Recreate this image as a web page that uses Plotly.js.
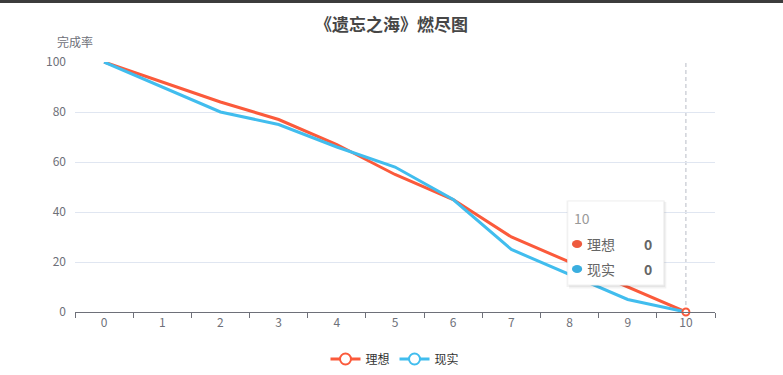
<!DOCTYPE html>
<html>
<head>
<meta charset="utf-8">
<script src="https://cdn.plot.ly/plotly-3.0.1.min.js"></script>
<style>
html,body{margin:0;padding:0;background:#fff;}
body{border-top:3px solid #3c3c3c;box-sizing:border-box;}
#chart{width:783px;height:372px;}
</style>
</head>
<body>
<div id="chart"></div>
<script>
const categories = ['0','1','2','3','4','5','6','7','8','9','10'];
const ideal = [100, 92, 84, 77, 67, 55, 45, 30, 20, 10, 0];
const actual = [100, 90, 80, 75, 66, 58, 45, 25, 15, 5, 0];
const seriesNames = ['理想', '现实'];
const titleText = '《遗忘之海》燃尽图';
const yName = '完成率';
const yTicks = [0, 20, 40, 60, 80, 100];

const RED = '#fb5a3b';
const BLUE = '#41bdee';
const RED_DOT = '#ee5a3e';
const BLUE_DOT = '#3aaedf';
const FONT = '"Noto Sans CJK SC", "Noto Sans", sans-serif';
const last = categories.length - 1;

const traces = [
  {x: categories, y: ideal, type: 'scatter', mode: 'lines', line: {color: RED, width: 3}, showlegend: false, hoverinfo: 'skip'},
  {x: categories, y: actual, type: 'scatter', mode: 'lines', line: {color: BLUE, width: 3}, showlegend: false, hoverinfo: 'skip'},
  {x: [categories[last]], y: [ideal[last]], type: 'scatter', mode: 'markers',
   marker: {size: 7, color: '#fff', line: {color: RED, width: 2}}, showlegend: false, hoverinfo: 'skip', cliponaxis: false},
  {x: [null], y: [null], type: 'scatter', mode: 'lines+markers', name: seriesNames[0],
   line: {color: RED, width: 3}, marker: {size: 11, color: '#fff', line: {color: RED, width: 2}}},
  {x: [null], y: [null], type: 'scatter', mode: 'lines+markers', name: seriesNames[1],
   line: {color: BLUE, width: 3}, marker: {size: 11, color: '#fff', line: {color: BLUE, width: 2}}}
];

// tooltip geometry in paper coordinates (plot area 640 x 250)
const tx0 = 0.770, tx1 = 0.920, ty0 = 0.108, ty1 = 0.444;

const layout = {
  width: 783, height: 372,
  margin: {l: 75, r: 68, t: 59, b: 63, autoexpand: false},
  paper_bgcolor: '#fff', plot_bgcolor: '#fff',
  font: {family: FONT, color: '#6e7079', size: 12},
  title: {text: '<b>' + titleText + '</b>', x: 0.5, xanchor: 'center', yref: 'container', y: 0.94, yanchor: 'middle',
          font: {family: FONT, size: 17, color: '#464646'}},
  xaxis: {
    type: 'category', range: [-0.5, last + 0.5], tickson: 'boundaries',
    showline: true, linecolor: '#6e7079', linewidth: 1,
    ticks: 'outside', ticklen: 5, tickcolor: '#6e7079', showgrid: false, zeroline: false,
    tickfont: {family: FONT, size: 12, color: '#6e7079'}, fixedrange: true, automargin: false
  },
  yaxis: {
    range: [0, 100], tickvals: yTicks, showline: false, ticks: '', zeroline: false,
    showgrid: true, gridcolor: '#e0e6f1', gridwidth: 1, ticklabelstandoff: 8,
    tickfont: {family: FONT, size: 12, color: '#6e7079'}, fixedrange: true, automargin: false
  },
  legend: {orientation: 'h', x: 0.5, xanchor: 'center', yref: 'container', y: 0.043, yanchor: 'middle',
           font: {family: FONT, size: 12, color: '#333'}, itemwidth: 30, tracegroupgap: 0},
  shapes: [
    {type: 'line', xref: 'x', yref: 'paper', x0: categories[last], x1: categories[last], y0: 0, y1: 1,
     line: {color: '#b9bcc6', width: 1, dash: '4px,3px'}, layer: 'below'},
    {type: 'rect', xref: 'paper', yref: 'paper', x0: tx0 + 0.002, x1: tx1 + 0.004, y0: ty0 - 0.014, y1: ty1 - 0.004,
     fillcolor: 'rgba(0,0,0,0.05)', line: {width: 0}},
    {type: 'rect', xref: 'paper', yref: 'paper', x0: tx0 - 0.002, x1: tx1 + 0.002, y0: ty0 - 0.008, y1: ty1 + 0.002,
     fillcolor: 'rgba(0,0,0,0.05)', line: {width: 0}},
    {type: 'rect', xref: 'paper', yref: 'paper', x0: tx0, x1: tx1, y0: ty0, y1: ty1,
     fillcolor: '#fff', line: {color: '#f0f0f0', width: 1}},
    {type: 'circle', xref: 'paper', yref: 'paper', x0: 0.7765, x1: 0.7925, y0: 0.256, y1: 0.288,
     fillcolor: RED_DOT, line: {width: 0}},
    {type: 'circle', xref: 'paper', yref: 'paper', x0: 0.7765, x1: 0.7925, y0: 0.156, y1: 0.188,
     fillcolor: BLUE_DOT, line: {width: 0}}
  ],
  annotations: [
    {text: yName, xref: 'paper', yref: 'paper', x: 0.0, y: 1.08, xanchor: 'center', yanchor: 'middle',
     showarrow: false, font: {family: FONT, size: 12, color: '#6e7079'}},
    {text: categories[last], xref: 'paper', yref: 'paper', x: 0.7765, y: 0.376, xanchor: 'left', yanchor: 'middle',
     showarrow: false, font: {family: FONT, size: 14, color: '#999'}},
    {text: seriesNames[0], xref: 'paper', yref: 'paper', x: 0.797, y: 0.272, xanchor: 'left', yanchor: 'middle',
     showarrow: false, font: {family: FONT, size: 14, color: '#666'}},
    {text: seriesNames[1], xref: 'paper', yref: 'paper', x: 0.797, y: 0.172, xanchor: 'left', yanchor: 'middle',
     showarrow: false, font: {family: FONT, size: 14, color: '#666'}},
    {text: '<b>' + ideal[last] + '</b>', xref: 'paper', yref: 'paper', x: 0.9045, y: 0.272, xanchor: 'right', yanchor: 'middle',
     showarrow: false, font: {family: FONT, size: 14, color: '#666'}},
    {text: '<b>' + actual[last] + '</b>', xref: 'paper', yref: 'paper', x: 0.9045, y: 0.172, xanchor: 'right', yanchor: 'middle',
     showarrow: false, font: {family: FONT, size: 14, color: '#666'}}
  ],
  hovermode: false
};

Plotly.newPlot('chart', traces, layout, {displayModeBar: false, staticPlot: true});
</script>
</body>
</html>
